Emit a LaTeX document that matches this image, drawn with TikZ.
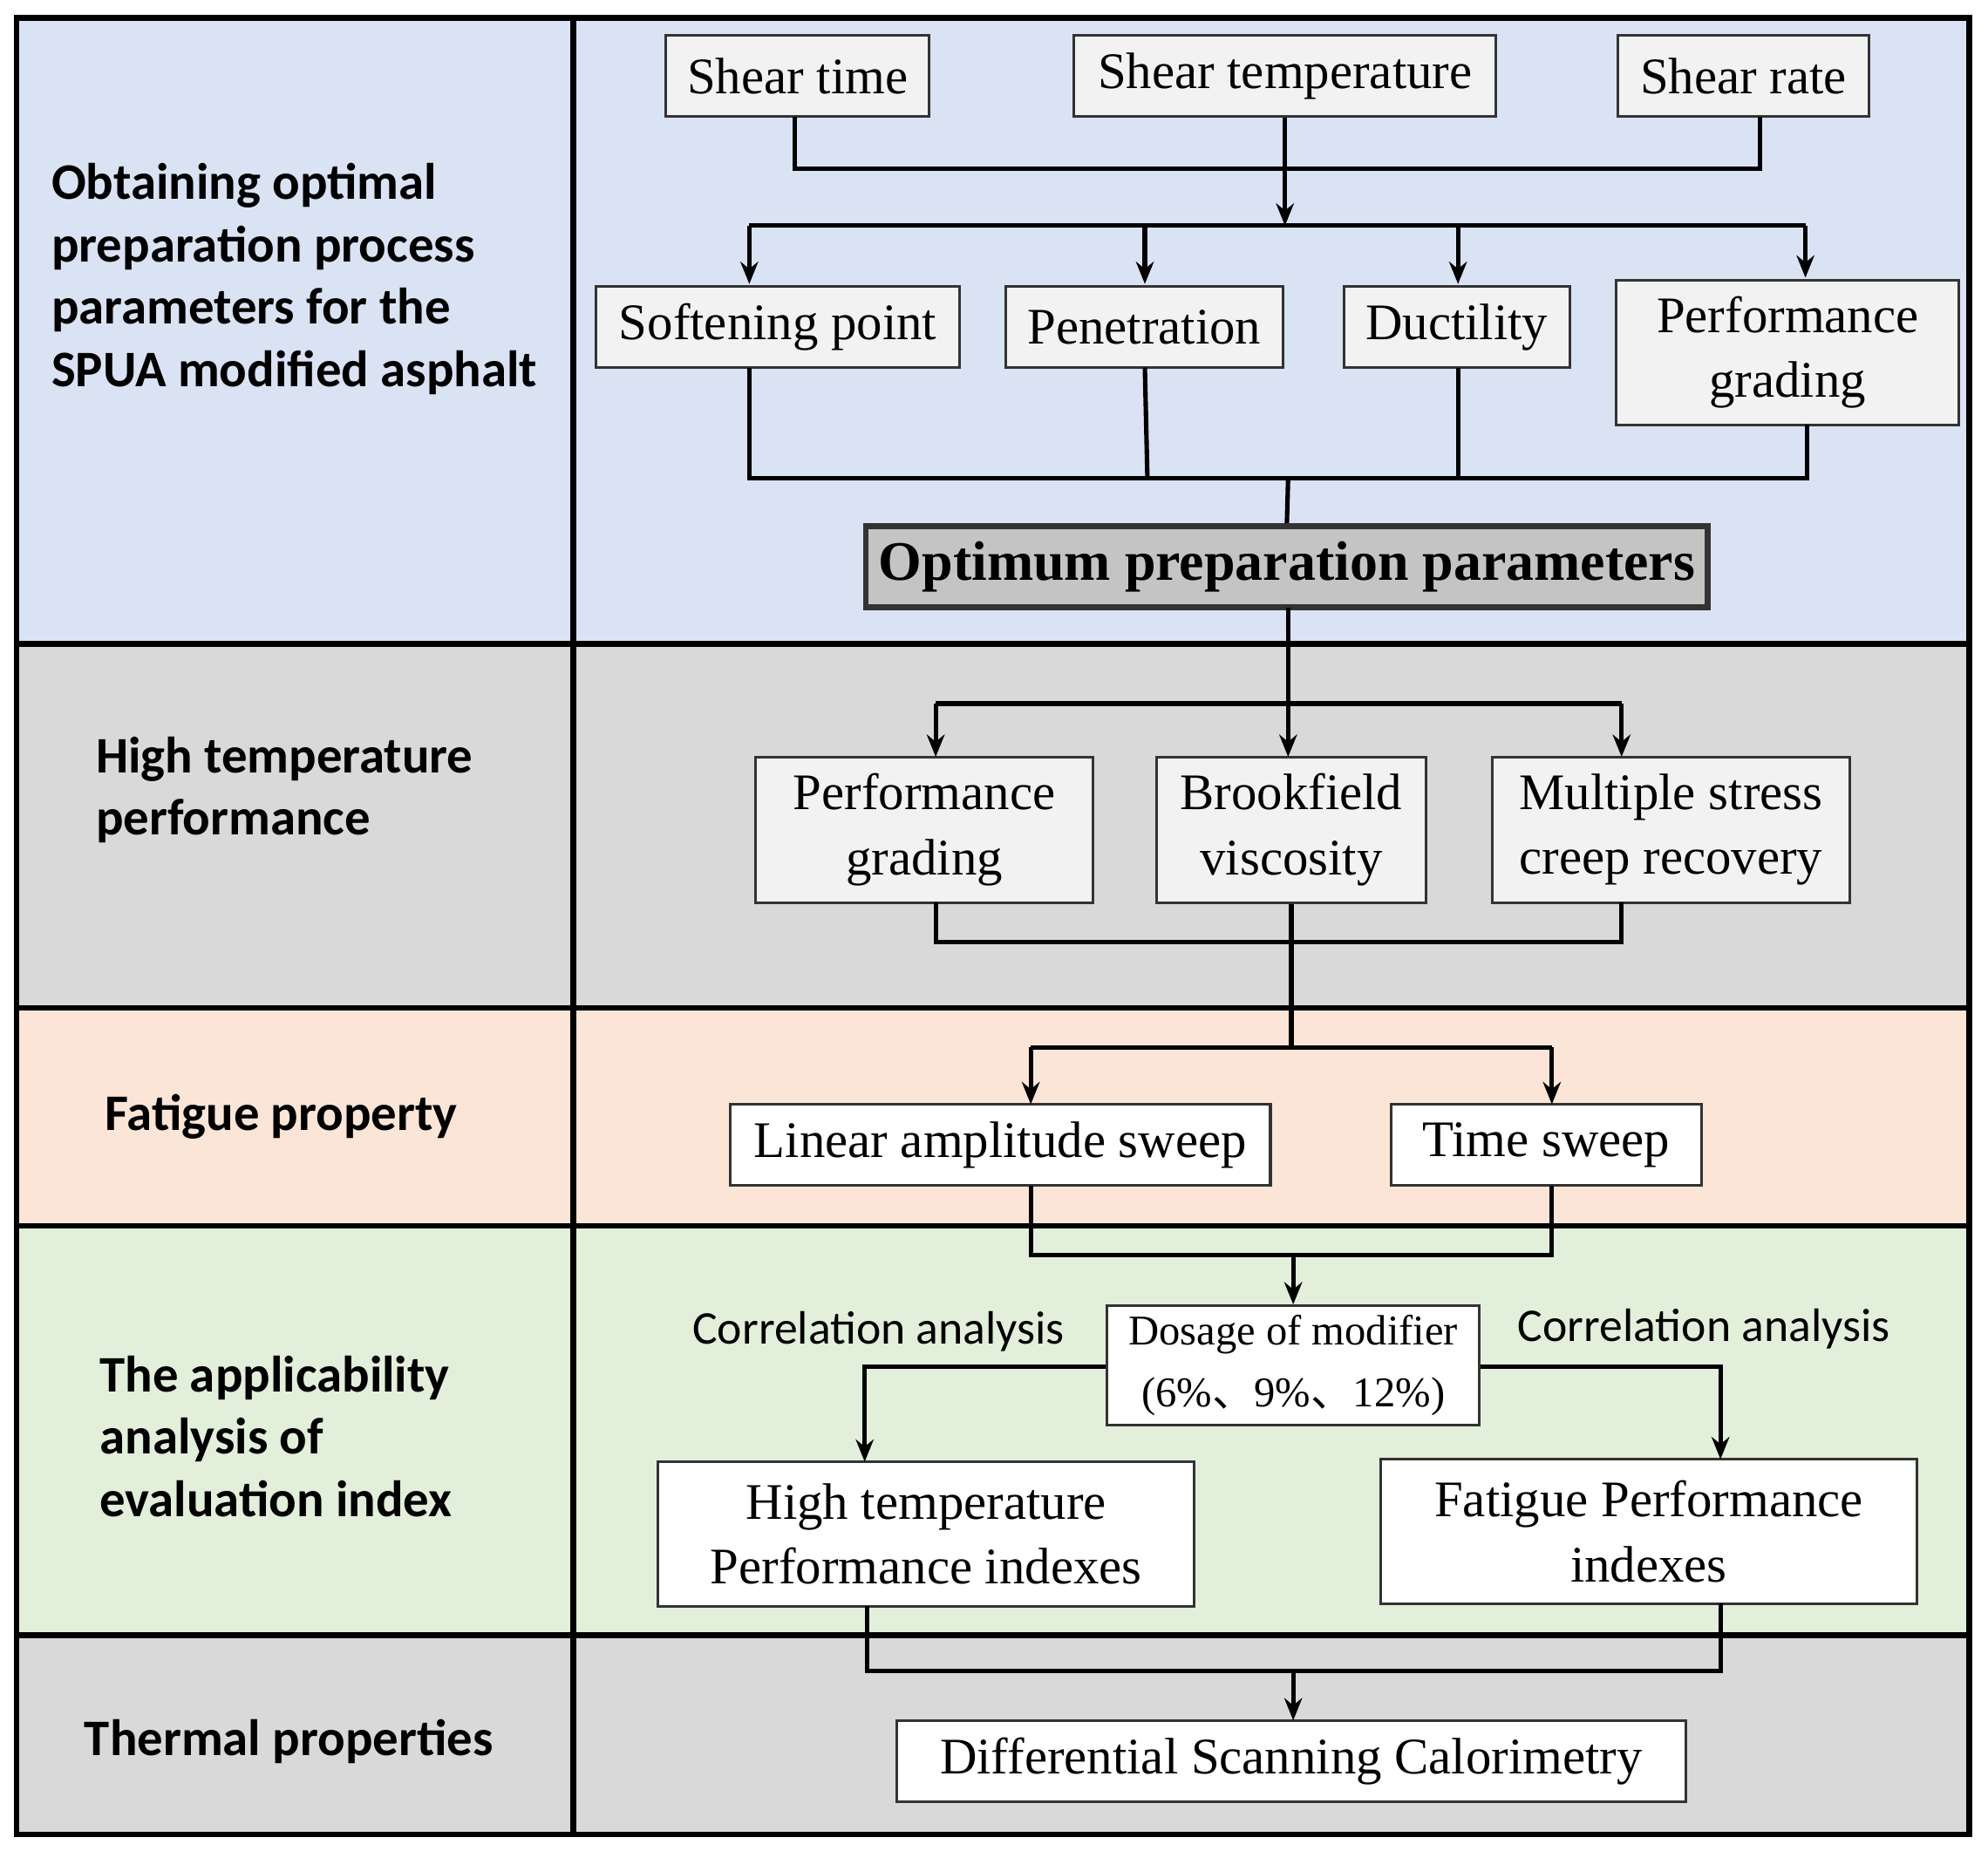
\documentclass[tikz,border=0pt]{standalone}
\usepackage{fontspec}
\setmainfont{Liberation Serif}
\newfontfamily\lab{Carlito}
\newfontfamily\cjk{Noto Sans CJK SC}
\usetikzlibrary{arrows.meta}
\definecolor{cblue}{HTML}{DAE3F3}
\definecolor{cgray}{HTML}{D9D9D9}
\definecolor{cpeach}{HTML}{FBE5D6}
\definecolor{cgreen}{HTML}{E2EFDA}
\definecolor{cbox}{HTML}{F2F2F2}
\definecolor{cdark}{HTML}{C4C4C4}
\newcommand{\dun}{{\cjk 、}}
\begin{document}
\begin{tikzpicture}[x=0.01cm,y=-0.01cm,
 box/.style={draw=black!80,line width=0.6pt,fill=cbox,inner sep=0pt,align=center,font=\fontsize{11.5}{14.5}\selectfont},
 wbox/.style={box,fill=white},
 sz/.style 2 args={minimum width=#1*0.01cm,minimum height=#2*0.01cm},
 sec/.style={anchor=west,inner sep=0pt,align=left,font=\lab\bfseries\fontsize{11.5}{14}\selectfont},
 ln/.style={line width=1pt},
 ar/.style={ln,-{Stealth[length=5pt,width=4pt]}}]
\useasboundingbox (0,0) rectangle (1568,1460);
\fill[cblue] (13,14) rectangle (1553,508);
\fill[cgray] (13,508) rectangle (1553,795);
\fill[cpeach] (13,795) rectangle (1553,967);
\fill[cgreen] (13,967) rectangle (1553,1290);
\fill[cgray] (13,1290) rectangle (1553,1447);
\draw[line width=1.3pt] (13,14) rectangle (1553,1447);
\draw[line width=1.3pt] (452,14) -- (452,1447);
\foreach \y in {508,795,967,1290} \draw[line width=1.3pt] (13,\y) -- (1553,\y);
% left labels
\node[sec] (l1) at (40,220) {Obtaining optimal\\preparation process\\parameters for the\\SPUA modified asphalt};
\node[sec] (l2) at (75,623) {High temperature\\performance};
\node[sec] (l3) at (82,881) {Fatigue property};
\node[sec] (l4) at (78,1133) {The applicability\\analysis of\\evaluation index};
\node[sec] (l5) at (66,1374) {Thermal properties};
% row 1
\node[box,sz={208}{64}] (st) at (629,60) {Shear time};
\node[box,sz={333}{64}] (stt) at (1013.5,60) {Shear temperature};
\node[box,sz={198}{64}] (sr) at (1375,60) {Shear rate};
\draw[ln] (627,92) |- (1388,133) -- (1388,92);
\draw[ar] (stt.south) -- (1013.5,178);
\node[box,sz={287}{64}] (sp) at (613.5,258) {Softening point};
\node[box,sz={219}{64}] (pe) at (902.5,258) {Penetration};
\node[box,sz={178}{64}] (du) at (1149,258) {Ductility};
\node[box,sz={270}{114}] (pg) at (1410,278) {Performance\\grading};
\draw[ln] (591,178) -- (1424,178);
\draw[ar] (591,178) -- (591,224);
\draw[ar] (903,178) -- (903,224);
\draw[ar] (1150,178) -- (1150,224);
\draw[ar] (1424,178) -- (1424,219);
\draw[ln] (591,290) |- (1425,377) -- (1425,335);
\draw[ln] (903,290) -- (905,377);
\draw[ln] (1150,290) -- (1150,377);
\node[box,fill=cdark,line width=1.3pt,sz={664}{64},font=\bfseries\fontsize{12.5}{14}\selectfont] (op) at (1015,447) {Optimum preparation parameters};
\draw[ln] (1016,377) -- (op.north);
% row 2
\node[box,sz={266}{115}] (pg2) at (729,654.5) {Performance\\grading};
\node[box,sz={213}{115}] (bv) at (1018.5,654.5) {Brookfield\\viscosity};
\node[box,sz={282}{115}] (ms) at (1318,654.5) {Multiple stress\\creep recovery};
\draw[ar] (1016,479) -- (1016,597);
\draw[ln] (738,555) -- (1279,555);
\draw[ar] (738,555) -- (738,597);
\draw[ar] (1279,555) -- (1279,597);
\draw[ln] (738,712) |- (1279,743) -- (1279,712);
% row 3
\node[wbox,sz={426}{64}] (la) at (789,903) {Linear amplitude sweep};
\node[wbox,sz={245}{64}] (ts) at (1219.5,903) {Time sweep};
\draw[ln] (bv.south) -- (1018.5,826);
\draw[ln] (813,826) -- (1224,826);
\draw[ar] (813,826) -- (813,871);
\draw[ar] (1224,826) -- (1224,871);
\draw[ln] (813,935) |- (1224,990) -- (1224,935);
% row 4
\node[wbox,sz={294}{94},font=\fontsize{9.5}{14}\selectfont] (dm) at (1020,1077) {Dosage of modifier\\(6\%\dun9\%\dun12\%)};
\draw[ar] (1020,990) -- (dm.north);
\node[wbox,sz={423}{114}] (hi) at (730.5,1210) {High temperature\\Performance indexes};
\node[wbox,sz={423}{114}] (fi) at (1300.5,1208) {Fatigue Performance\\indexes};
\draw[ar] (dm.west |- 0,1078) -| (682,1153);
\draw[ar] (dm.east |- 0,1078) -| (1357,1151);
\node[font=\lab\fontsize{10.5}{12}\selectfont] (c1) at (693,1050) {Correlation analysis};
\node[font=\lab\fontsize{10.5}{12}\selectfont] (c2) at (1344,1048) {Correlation analysis};
% row 5
\node[wbox,sz={623}{64}] (dsc) at (1018.5,1389) {Differential Scanning Calorimetry};
\draw[ln] (684,1267) |- (1357,1318) -- (1357,1265);
\draw[ar] (1020,1318) -- (1020,1357);
\end{tikzpicture}
\end{document}
